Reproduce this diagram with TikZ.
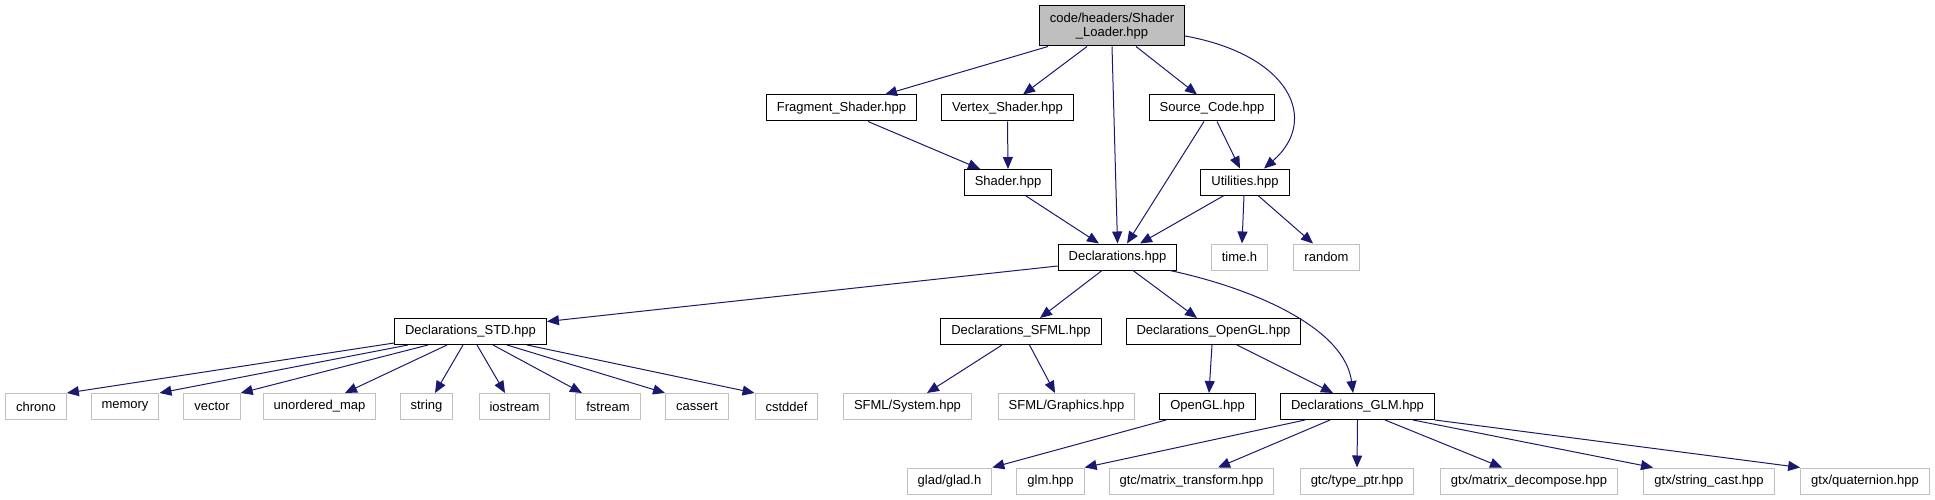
\documentclass[tikz,border=0pt]{standalone}
\usepackage{fontspec}
\setmainfont{Liberation Sans}
\usetikzlibrary{arrows.meta}
\definecolor{edgeblue}{HTML}{191970}
\definecolor{sysgray}{HTML}{BFBFBF}

\begin{document}
\begin{tikzpicture}[x=1pt,y=-1pt,font=\fontsize{13}{14.5}\selectfont,>={Triangle[length=12pt,width=10pt]},
  box/.style={draw=black,line width=1pt,fill=white,minimum height=26pt,inner xsep=10.5pt,inner ysep=0pt},
  sys/.style={box,draw=sysgray},
  root/.style={box,fill=sysgray,align=center,minimum height=40pt},
  dep/.style={->,draw=edgeblue,line width=1pt}]
\useasboundingbox (0,0) rectangle (1935,500);
% top
\node[root] (loader) at (1112,26) {code/headers/Shader\\\_Loader.hpp};
\node[box] (frag) at (841.5,108) {Fragment\_Shader.hpp};
\node[box] (vert) at (1007.5,108) {Vertex\_Shader.hpp};
\node[box] (src) at (1212,108) {Source\_Code.hpp};
\node[box] (shader) at (1008,182.5) {Shader.hpp};
\node[box] (util) at (1245,182) {Utilities.hpp};
\node[box] (decl) at (1117.5,257) {Declarations.hpp};
\node[sys] (timeh) at (1239.5,257) {time.h};
\node[sys] (random) at (1326.5,257) {random};
% middle
\node[box] (std) at (470.5,331.5) {Declarations\_STD.hpp};
\node[box] (sfml) at (1021,331.5) {Declarations\_SFML.hpp};
\node[box] (ogl) at (1213.5,331.5) {Declarations\_OpenGL.hpp};
% row 4
\node[sys] (chrono) at (36,406.5) {chrono};
\node[sys] (memory) at (125,406.5) {memory};
\node[sys] (vector) at (212,406.5) {vector};
\node[sys] (umap) at (319.5,406.5) {unordered\_map};
\node[sys] (string) at (426.5,406.5) {string};
\node[sys] (iostream) at (514.5,406.5) {iostream};
\node[sys] (fstream) at (608,406.5) {fstream};
\node[sys] (cassert) at (697,406.5) {cassert};
\node[sys] (cstddef) at (786.5,406.5) {cstddef};
\node[sys] (sfsys) at (907.5,406.5) {SFML/System.hpp};
\node[sys] (sfgfx) at (1066.5,406.5) {SFML/Graphics.hpp};
\node[box] (openglh) at (1207.5,406.5) {OpenGL.hpp};
\node[box] (glmdecl) at (1357.5,406.5) {Declarations\_GLM.hpp};
% row 5
\node[sys] (glad) at (949.5,481) {glad/glad.h};
\node[sys] (glmh) at (1050.5,481) {glm.hpp};
\node[sys] (mtrans) at (1191.5,481) {gtc/matrix\_transform.hpp};
\node[sys] (tptr) at (1357,481) {gtc/type\_ptr.hpp};
\node[sys] (mdec) at (1529,481) {gtx/matrix\_decompose.hpp};
\node[sys] (scast) at (1709,481) {gtx/string\_cast.hpp};
\node[sys] (quat) at (1865,481) {gtx/quaternion.hpp};

\draw[dep] ([xshift=-64pt]loader.south) -- ([xshift=43.5pt]frag.north);
\draw[dep] ([xshift=-25pt]loader.south) -- ([xshift=15.5pt]vert.north);
\draw[dep] (loader.south) -- (decl.north);
\draw[dep] ([xshift=24pt]loader.south) -- ([xshift=-15pt]src.north);
\draw[dep] ([yshift=-10pt]loader.east) .. controls (1290,55) and (1320,120) .. ([xshift=19pt]util.north);
\draw[dep] ([xshift=26.5pt]frag.south) -- ([xshift=-28pt]shader.north);
\draw[dep] (vert.south) -- (shader.north);
\draw[dep] ([xshift=18pt]shader.south) -- ([xshift=-18.5pt]decl.north);
\draw[dep] ([xshift=-8pt]src.south) -- ([xshift=9.5pt]decl.north);
\draw[dep] ([xshift=5pt]src.south) -- ([xshift=-5pt]util.north);
\draw[dep] ([xshift=-21pt]util.south) -- ([xshift=22.5pt]decl.north);
\draw[dep] ([xshift=-1pt]util.south) -- ([xshift=2.5pt]timeh.north);
\draw[dep] ([xshift=13pt]util.south) -- ([xshift=-13.5pt]random.north);

\draw[dep] ([yshift=-9pt]decl.west) -- ([yshift=10pt]std.east);
\draw[dep] ([xshift=-15.5pt]decl.south) -- ([xshift=19pt]sfml.north);
\draw[dep] ([xshift=15.5pt]decl.south) -- ([xshift=-16.5pt]ogl.north);
\draw[dep] ([xshift=52.5pt]decl.south) .. controls (1260,290) and (1345,330) .. ([xshift=-4.5pt]glmdecl.north);

\draw[dep] ([yshift=2pt]std.south west) -- (chrono.north east);
\draw[dep] ([xshift=-62.5pt]std.south) -- (memory.north east);
\draw[dep] ([xshift=-42.5pt]std.south) -- (vector.north east);
\draw[dep] ([xshift=-23.5pt]std.south) -- ([xshift=25.5pt]umap.north);
\draw[dep] ([xshift=-7.5pt]std.south) -- ([xshift=8.5pt]string.north);
\draw[dep] ([xshift=6.5pt]std.south) -- ([xshift=-9.5pt]iostream.north);
\draw[dep] ([xshift=22.5pt]std.south) -- ([xshift=-26pt]fstream.north);
\draw[dep] ([xshift=36.5pt]std.south) -- (cassert.north west);
\draw[dep] ([xshift=56.5pt]std.south) -- (cstddef.north west);

\draw[dep] ([xshift=-19pt]sfml.south) -- ([xshift=19.5pt]sfsys.north);
\draw[dep] ([xshift=8.5pt]sfml.south) -- ([xshift=-11.5pt]sfgfx.north);
\draw[dep] ([xshift=-1.5pt]ogl.south) -- ([xshift=1.5pt]openglh.north);
\draw[dep] ([xshift=23.5pt]ogl.south) -- ([xshift=-24.5pt]glmdecl.north);
\draw[dep] ([xshift=-41.5pt]openglh.south) -- (glad.north east);

\draw[dep] ([xshift=-52.5pt]glmdecl.south) -- (glmh.north east);
\draw[dep] ([xshift=-27.5pt]glmdecl.south) -- ([xshift=26.5pt]mtrans.north);
\draw[dep] (glmdecl.south) -- (tptr.north);
\draw[dep] ([xshift=27.5pt]glmdecl.south) -- ([xshift=-27pt]mdec.north);
\draw[dep] ([xshift=55.5pt]glmdecl.south) -- ([xshift=-56pt]scast.north);
\draw[dep] (glmdecl.south east) -- (quat.north west);
\end{tikzpicture}
\end{document}
